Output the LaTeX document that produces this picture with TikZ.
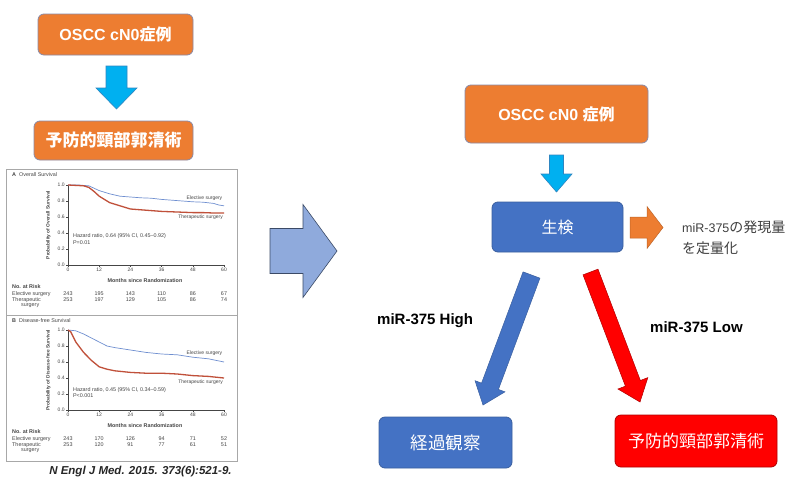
\documentclass[tikz,border=0pt]{standalone}
\usepackage{fontspec}
\setmainfont{Liberation Sans}
\newfontfamily\cjk{Noto Sans CJK JP}
\usetikzlibrary{calc}
\definecolor{orng}{HTML}{ED7D31}
\definecolor{orngline}{HTML}{8A8AA6}
\definecolor{pblue}{HTML}{4472C4}
\definecolor{pblueline}{HTML}{3A5F9F}
\definecolor{cyanarr}{HTML}{00B0F0}
\definecolor{cyanline}{HTML}{2E86C1}
\definecolor{bigarr}{HTML}{8FAADC}
\definecolor{bigline}{HTML}{3B4A66}
\definecolor{redbox}{HTML}{FF0000}
\definecolor{redline}{HTML}{B00000}
\definecolor{kmb}{HTML}{6F8FD0}
\definecolor{kmr}{HTML}{C0503A}
\definecolor{chgray}{HTML}{454545}
\definecolor{panel}{HTML}{A8A8A8}
\newcommand\blkarrow[6]{%
  \coordinate (ba-s) at (#2);
  \coordinate (ba-t) at (#3);
  \coordinate (ba-b) at ($(ba-t)!#6!(ba-s)$);
  \draw[#1] ($(ba-s)!#4!90:(ba-t)$) -- ($(ba-b)!#4!90:(ba-t)$) -- ($(ba-b)!#5!90:(ba-t)$) -- (ba-t)
    -- ($(ba-b)!#5!-90:(ba-t)$) -- ($(ba-b)!#4!-90:(ba-t)$) -- ($(ba-s)!#4!-90:(ba-t)$) -- cycle;
}
\begin{document}
\begin{tikzpicture}[x=1pt,y=-1pt,
  obox/.style={draw=orngline, fill=orng, rounded corners=6pt, line width=0.8pt, text=white, inner sep=0pt},
  bbox/.style={draw=pblueline, fill=pblue, rounded corners=6pt, line width=0.8pt, text=white, inner sep=0pt},
  rbox/.style={draw=redline, fill=redbox, rounded corners=6pt, line width=0.8pt, text=white, inner sep=0pt},
  chtxt/.style={font=\fontsize{5}{5.6}\selectfont, text=chgray, inner sep=0pt},
  chtab/.style={font=\fontsize{5.4}{6}\selectfont, text=chgray, inner sep=0pt},
  chbold/.style={font=\fontsize{5.4}{6}\selectfont\bfseries, text=chgray, inner sep=0pt},
  axisln/.style={draw=chgray, line width=0.4pt},
  kmblue/.style={draw=kmb, line width=0.7pt},
  kmred/.style={draw=kmr, line width=1.3pt},
  lbl/.style={font=\fontsize{15}{18}\selectfont\bfseries, text=black, inner sep=0pt}
]
\useasboundingbox (0,0) rectangle (803,477);
\fill[white] (0,0) rectangle (803,477);

% ---------- left flow ----------
\node[obox, minimum width=155pt, minimum height=41pt] (b1) at (115.5,34.5)
  {\fontsize{16}{19}\selectfont\bfseries OSCC cN0{\cjk 症例}};
\node[obox, minimum width=159pt, minimum height=39pt] (b2) at (113.5,140.5)
  {\fontsize{17}{20}\selectfont\bfseries\cjk 予防的頸部郭清術};
\coordinate (a1s) at (116.5,66);
\coordinate (a1t) at (116.5,109);
\blkarrow{fill=cyanarr, draw=cyanline, line width=0.6pt}{a1s}{a1t}{10.5pt}{20.5pt}{21pt}

% ---------- chart panel ----------
\draw[panel, line width=0.6pt] (6,169) rectangle (237,461);
\draw[panel, line width=0.6pt] (6,315) -- (237,315);

% Panel A
\node[chbold, anchor=west] (ta) at (12,175) {A};
\node[chtxt, anchor=west, font=\fontsize{5.4}{6}\selectfont] (tat) at (19,175) {Overall Survival};
\begin{scope}[shift={(68,265)}, x=2.6pt, y=80pt]
  \draw[axisln] (0,1) -- (0,0) -- (60,0);
  \foreach \p/\l in {0/0.0,0.2/0.2,0.4/0.4,0.6/0.6,0.8/0.8,1/1.0}{
    \draw[axisln] (0,\p) -- (-0.8,\p);
    \node[chtxt, anchor=east] at (-1.2,\p) {\l};}
  \foreach \m in {0,12,24,36,48,60}{
    \draw[axisln] (\m,0) -- (\m,-0.02);
    \node[chtxt, anchor=north] at (\m,-0.04) {\m};}
  \node[chtxt, rotate=90, font=\fontsize{4.8}{5.4}\selectfont\bfseries] (ya) at (-7.5,0.5) {Probability of Overall Survival};
  \node[chbold] (xa) at (29.6,-0.19) {Months since Randomization};
  \draw[kmblue] plot coordinates {(0,1)(4,1)(8,0.99)(10,0.96)(12,0.93)(14,0.91)(16,0.89)(20,0.86)(24,0.85)(28,0.84)(32,0.835)(36,0.82)(40,0.81)(44,0.80)(48,0.79)(52,0.785)(56,0.77)(58,0.75)(60,0.74)};
  \draw[kmred] plot coordinates {(0,1)(6,0.99)(8,0.97)(10,0.92)(12,0.86)(14,0.82)(16,0.78)(20,0.74)(24,0.70)(28,0.69)(32,0.68)(36,0.67)(40,0.665)(44,0.66)(48,0.655)(52,0.655)(56,0.65)(60,0.65)};
  \node[chtxt, anchor=east] (lea) at (59.4,0.83) {Elective surgery};
  \node[chtxt, anchor=east] (lta) at (59.6,0.6) {Therapeutic surgery};
  \node[chtab, anchor=west] (ha1) at (1.9,0.36) {Hazard ratio, 0.64 (95\% CI, 0.45--0.92)};
  \node[chtab, anchor=west] (ha2) at (1.9,0.285) {P=0.01};
\end{scope}
\node[chbold, anchor=west] (nra) at (12,287) {No. at Risk};
\node[chtab, anchor=west] (era) at (12,294) {Elective surgery};
\node[chtab, anchor=west] (tra) at (12,300) {Therapeutic};
\node[chtab, anchor=west] (sra) at (21,306) {surgery};
\foreach \n [count=\i from 0] in {243,195,143,110,86,67}{
  \node[chtab] at (68+31.2*\i,294) {\n};}
\foreach \n [count=\i from 0] in {253,197,129,105,86,74}{
  \node[chtab] at (68+31.2*\i,300) {\n};}

% Panel B
\node[chbold, anchor=west] (tb) at (12,321) {B};
\node[chtxt, anchor=west, font=\fontsize{5.4}{6}\selectfont] (tbt) at (19,321) {Disease-free Survival};
\begin{scope}[shift={(68,410)}, x=2.6pt, y=80pt]
  \draw[axisln] (0,1) -- (0,0) -- (60,0);
  \foreach \p/\l in {0/0.0,0.2/0.2,0.4/0.4,0.6/0.6,0.8/0.8,1/1.0}{
    \draw[axisln] (0,\p) -- (-0.8,\p);
    \node[chtxt, anchor=east] at (-1.2,\p) {\l};}
  \foreach \m in {0,12,24,36,48,60}{
    \draw[axisln] (\m,0) -- (\m,-0.02);
    \node[chtxt, anchor=north] at (\m,-0.04) {\m};}
  \node[chtxt, rotate=90, font=\fontsize{4.8}{5.4}\selectfont\bfseries] (yb) at (-7.5,0.5) {Probability of Disease-free Survival};
  \node[chbold] (xb) at (29.6,-0.19) {Months since Randomization};
  \draw[kmblue] plot coordinates {(0,1)(3,0.99)(6,0.95)(9,0.90)(12,0.85)(15,0.80)(18,0.78)(21,0.765)(24,0.75)(30,0.72)(36,0.70)(42,0.69)(48,0.66)(54,0.64)(60,0.60)};
  \draw[kmred] plot coordinates {(0,1)(1,0.98)(3,0.85)(6,0.72)(9,0.62)(12,0.54)(15,0.51)(18,0.49)(24,0.47)(30,0.46)(36,0.46)(42,0.45)(48,0.43)(54,0.42)(60,0.40)};
  \node[chtxt, anchor=east] (leb) at (59.4,0.71) {Elective surgery};
  \node[chtxt, anchor=east] (ltb) at (59.6,0.35) {Therapeutic surgery};
  \node[chtab, anchor=west] (hb1) at (1.9,0.25) {Hazard ratio, 0.45 (95\% CI, 0.34--0.59)};
  \node[chtab, anchor=west] (hb2) at (1.9,0.175) {P<0.001};
\end{scope}
\node[chbold, anchor=west] (nrb) at (12,432) {No. at Risk};
\node[chtab, anchor=west] (erb) at (12,439) {Elective surgery};
\node[chtab, anchor=west] (trb) at (12,445) {Therapeutic};
\node[chtab, anchor=west] (srb) at (21,451) {surgery};
\foreach \n [count=\i from 0] in {243,170,126,94,71,52}{
  \node[chtab] at (68+31.2*\i,439) {\n};}
\foreach \n [count=\i from 0] in {253,120,91,77,61,51}{
  \node[chtab] at (68+31.2*\i,445) {\n};}

\node[font=\fontsize{11.5}{14}\selectfont\bfseries\itshape, text=black!85, inner sep=0pt] (cite) at (140.5,472) {N Engl J Med. 2015. 373(6):521-9.};

% ---------- big arrow ----------
\coordinate (bas) at (270,251);
\coordinate (bat) at (337,251);
\blkarrow{fill=bigarr, draw=bigline, line width=0.6pt}{bas}{bat}{22.5pt}{46.5pt}{34pt}

% ---------- right flow ----------
\node[obox, minimum width=183pt, minimum height=58pt] (r1) at (556.5,114)
  {\fontsize{16}{19}\selectfont\bfseries OSCC cN0 {\cjk 症例}};
\node[bbox, minimum width=131pt, minimum height=50pt] (r2) at (557.5,227)
  {\fontsize{16}{19}\selectfont\cjk 生検};
\node[bbox, minimum width=133pt, minimum height=51pt] (r3) at (445.5,442.5)
  {\fontsize{17.5}{20}\selectfont\cjk 経過観察};
\node[rbox, minimum width=162pt, minimum height=52pt] (r4) at (696,441)
  {\fontsize{17}{20}\selectfont\cjk 予防的頸部郭清術};

\coordinate (a2s) at (556.5,155);
\coordinate (a2t) at (556.5,192);
\blkarrow{fill=cyanarr, draw=cyanline, line width=0.6pt}{a2s}{a2t}{7pt}{15.5pt}{18pt}

\coordinate (a3s) at (630,227.5);
\coordinate (a3t) at (663,227.5);
\blkarrow{fill=orng, draw=orng!80!black, line width=0.5pt}{a3s}{a3t}{10.5pt}{21pt}{16pt}

\node[anchor=west, text=black!75, inner sep=0pt, align=left] (q1) at (682,227) {\fontsize{12.5}{15}\selectfont miR-375{\cjk\fontsize{14}{17}\selectfont の発現量}};
\node[anchor=west, text=black!75, inner sep=0pt] (q2) at (682,248) {\cjk\fontsize{14}{17}\selectfont を定量化};

\coordinate (a4s) at (531.5,275);
\coordinate (a4t) at (483,405);
\blkarrow{fill=pblue, draw=pblueline, line width=0.5pt}{a4s}{a4t}{9pt}{16pt}{20pt}

\coordinate (a5s) at (590.5,272);
\coordinate (a5t) at (640,402);
\blkarrow{fill=redbox, draw=redline, line width=0.5pt}{a5s}{a5t}{8pt}{16pt}{20pt}

\node[lbl, anchor=west] (lh) at (377,321) {miR-375 High};
\node[lbl, anchor=west] (ll) at (650,327) {miR-375 Low};
\end{tikzpicture}
\end{document}
